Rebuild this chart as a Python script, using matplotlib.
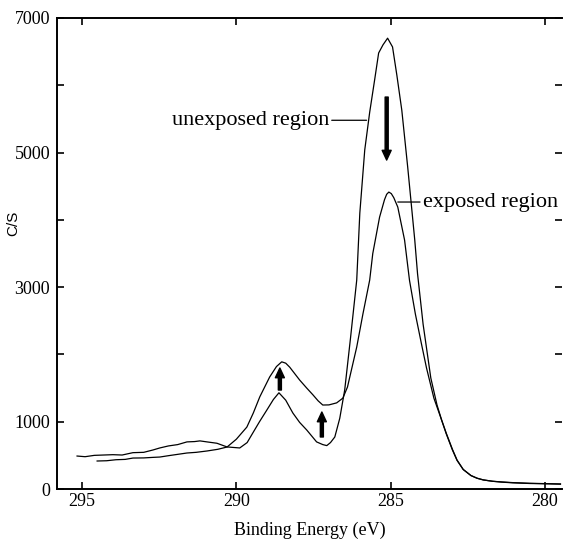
import numpy as np
import matplotlib
matplotlib.use("Agg")
import matplotlib.pyplot as plt

plt.rcParams.update({"font.family": "Liberation Serif", "font.size": 13})

# Unexposed region (C 1s), binding energy [eV] and counts [C/S]
unexposed_be = [295.16, 294.9, 294.6, 294.3, 294.0, 293.7, 293.35, 293.0,
                292.7, 292.48, 292.2, 291.9, 291.6, 291.35, 291.18, 290.95,
                290.63, 290.3, 289.89, 289.65, 289.47, 289.25, 289.01, 288.8,
                288.62, 288.4, 288.17, 287.95, 287.72, 287.4, 287.2, 287.07,
                286.95, 286.81, 286.65, 286.49, 286.3, 286.1, 286.0, 285.84,
                285.68, 285.52, 285.39, 285.25, 285.10, 284.94, 284.8, 284.64,
                284.45, 284.22, 284.13, 283.95, 283.7, 283.5, 283.35, 283.2,
                283.0, 282.85, 282.65, 282.4, 282.2, 282.0, 281.7, 281.4,
                281.05, 280.5, 280.0, 279.5]
unexposed_cs = [490, 480, 500, 505, 510, 505, 540, 545,
                580, 610, 640, 660, 700, 705, 715, 700,
                680, 625, 610, 690, 830, 1000, 1175, 1330,
                1430, 1320, 1130, 990, 877, 700, 660, 645,
                690, 773, 1050, 1470, 2250, 3105, 4100, 5040,
                5600, 6080, 6480, 6600, 6700, 6570, 6150, 5630,
                4790, 3700, 3200, 2450, 1650, 1250, 1025, 830,
                590, 430, 290, 200, 160, 135, 115, 105,
                95, 85, 80, 75]

# Exposed region
exposed_be = [294.51, 294.2, 293.9, 293.6, 293.35, 293.0, 292.7, 292.48,
              292.2, 291.9, 291.6, 291.3, 290.95, 290.6, 290.3, 290.0,
              289.66, 289.45, 289.24, 288.92, 288.7, 288.53, 288.4, 288.27,
              287.95, 287.72, 287.52, 287.35, 287.2, 287.0, 286.75, 286.55,
              286.4, 286.1, 285.9, 285.68, 285.58, 285.36, 285.2, 285.13,
              285.06, 284.98, 284.9, 284.77, 284.55, 284.39, 284.2, 284.0,
              283.84, 283.6, 283.35, 283.2, 283.0, 282.85, 282.65, 282.4,
              282.2, 282.0, 281.7, 281.4, 281.05, 280.5, 280.0, 279.5]
exposed_cs = [416, 420, 435, 440, 460, 462, 470, 475,
              495, 515, 535, 545, 565, 590, 624, 740,
              920, 1130, 1370, 1665, 1820, 1890, 1870, 1810,
              1620, 1500, 1400, 1310, 1248, 1250, 1280, 1350,
              1515, 2110, 2600, 3105, 3500, 4040, 4300, 4380,
              4413, 4390, 4330, 4190, 3700, 3100, 2600, 2150,
              1800, 1350, 1025, 820, 580, 425, 290, 200,
              160, 135, 115, 102, 92, 82, 78, 72]

x_ticks = [295, 290, 285, 280]
y_ticks = [0, 1000, 2000, 3000, 4000, 5000, 6000, 7000]
y_tick_labels = ["0", "1000", "", "3000", "", "5000", "", "7000"]

fig = plt.figure(figsize=(5.66, 5.40), dpi=100)
ax = fig.add_axes([57 / 566, 51 / 540, (562 - 57) / 566, (489 - 18) / 540])

ax.plot(unexposed_be, unexposed_cs, color="black", lw=0.9)
ax.plot(exposed_be, exposed_cs, color="black", lw=0.9)

ax.set_xlim(295.81, 279.45)
ax.set_ylim(0, 7000)

ax.set_xticks(x_ticks)
ax.set_yticks(y_ticks)
ax.set_yticklabels(y_tick_labels)

ax.tick_params(direction="in", length=5, width=1.2, top=True, right=True)
ax.tick_params(axis="x", pad=3)
ax.tick_params(axis="y", pad=5)

for side in ["left", "bottom", "top"]:
    ax.spines[side].set_linewidth(1.4)
ax.spines["right"].set_visible(False)

ax.set_xlabel("Binding Energy (eV)", fontsize=13)
ax.xaxis.set_label_coords(0.5, -0.069)
ax.set_ylabel("C/S", family="Liberation Sans", fontsize=11)
ax.yaxis.set_label_coords(-0.073, 0.565)

# labels with leader lines
ax.annotate("unexposed region", xy=(285.78, 5480), xytext=(287.0, 5480),
            ha="right", va="center", fontsize=16,
            arrowprops=dict(arrowstyle="-", lw=0.9, color="black",
                            shrinkA=0, shrinkB=0))
ax.annotate("exposed region", xy=(284.77, 4265), xytext=(283.96, 4265),
            ha="left", va="center", fontsize=16,
            arrowprops=dict(arrowstyle="-", lw=0.9, color="black",
                            shrinkA=0, shrinkB=0))

# arrows showing the change after exposure
arrow_style = dict(facecolor="black", edgecolor="black", width=2.2,
                   headwidth=6.5, headlength=7, shrink=0)
ax.annotate("", xy=(285.13, 4889), xytext=(285.13, 5825),
            arrowprops=arrow_style)
ax.annotate("", xy=(288.59, 1798), xytext=(288.59, 1471),
            arrowprops=arrow_style)
ax.annotate("", xy=(287.23, 1144), xytext=(287.23, 773),
            arrowprops=arrow_style)

plt.savefig("out.png", dpi=100)
plt.close()
